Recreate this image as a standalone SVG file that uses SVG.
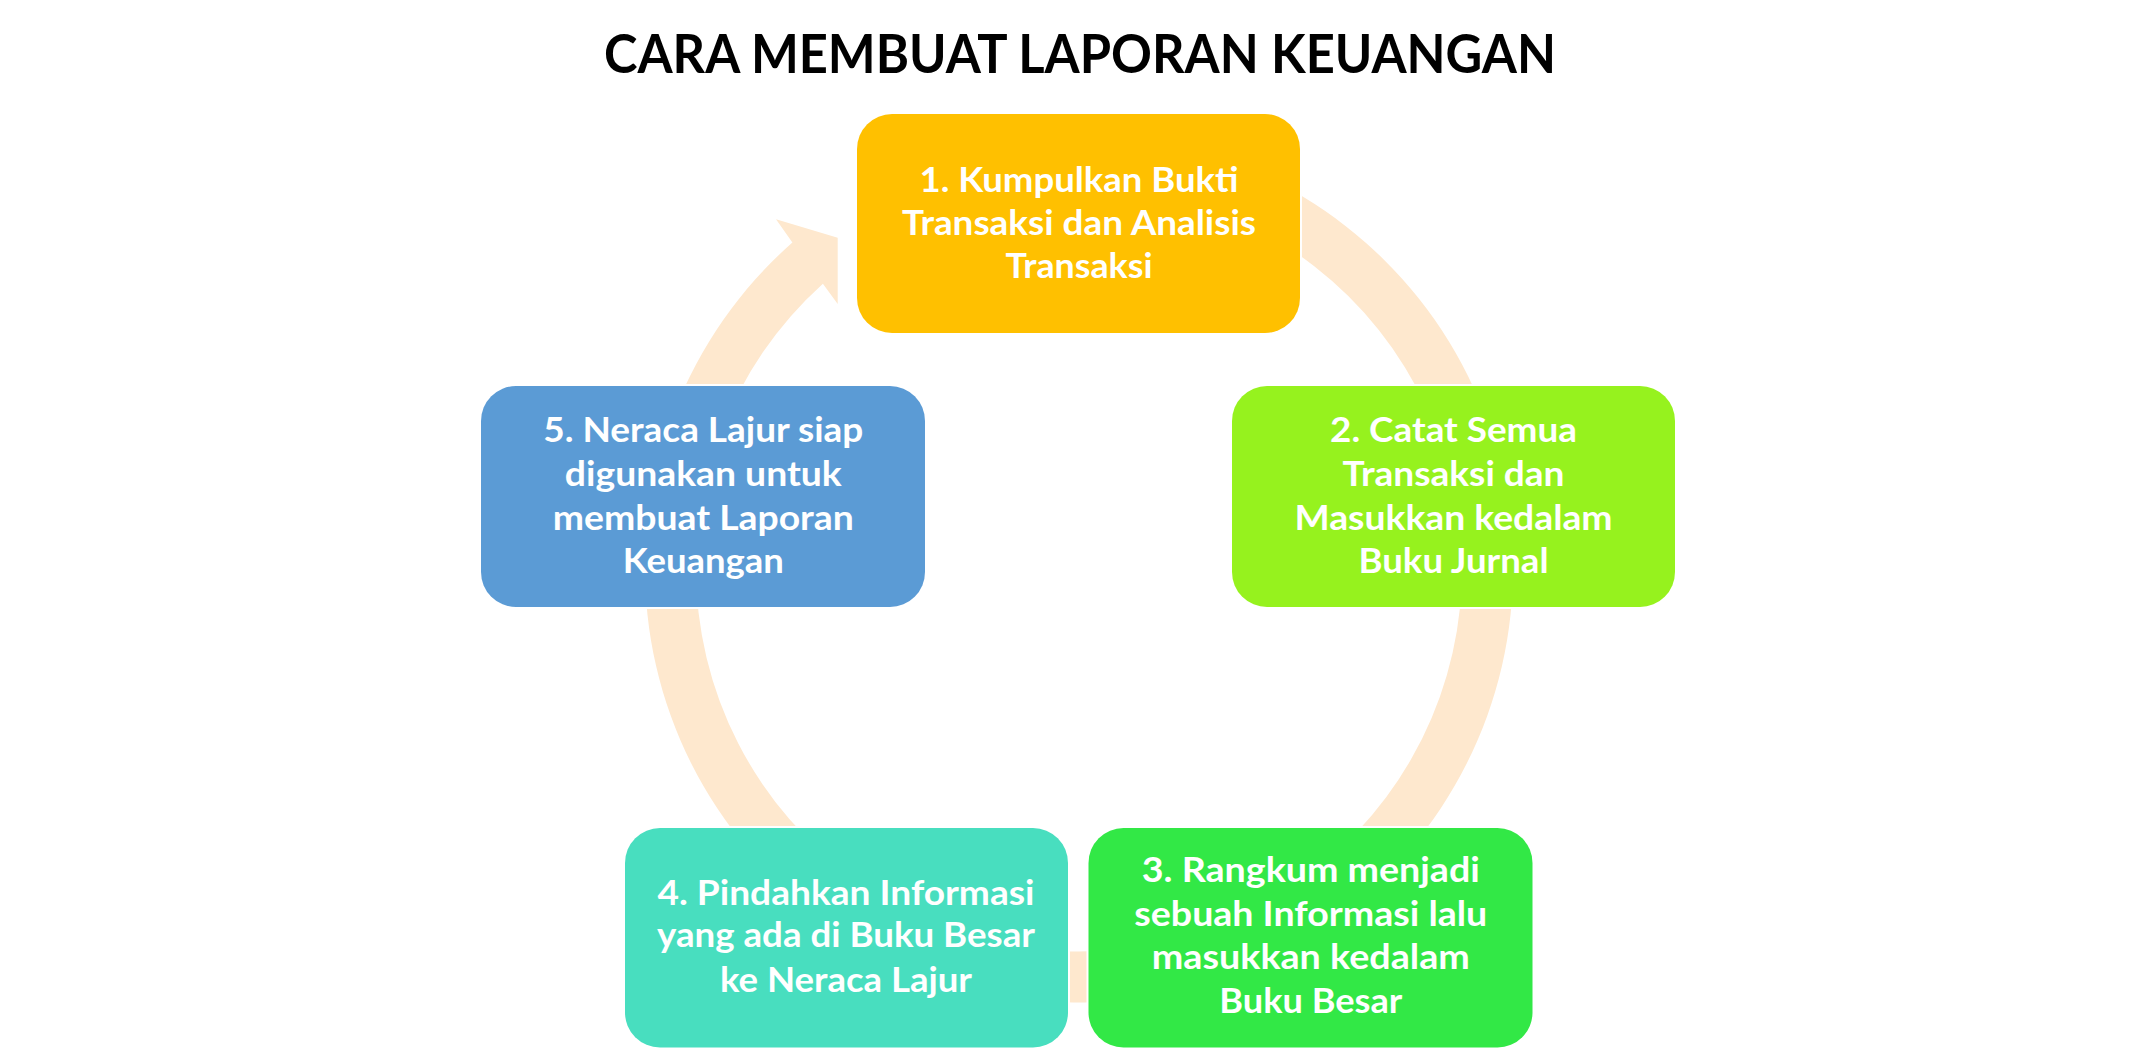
<svg xmlns="http://www.w3.org/2000/svg" width="2156" height="1050" viewBox="0 0 2156 1050">
<style>
.bg{fill:#ffffff}
.title{font-family:Lato,"Open Sans","Liberation Sans",sans-serif;font-weight:bold;font-size:53.5px;fill:#000000;text-anchor:middle}
.box{stroke:#ffffff;stroke-width:4;paint-order:stroke}
.lbl{font-family:Lato,"Open Sans","Liberation Sans",sans-serif;font-weight:bold;font-size:34.5px;fill:#ffffff;text-anchor:middle}
.ring{fill:#FEE8CE}
</style>
<rect class="bg" x="0" y="0" width="2156" height="1050"/>
<g id="title">
<text class="title" x="1080" y="73.3" textLength="952" lengthAdjust="spacingAndGlyphs">CARA MEMBUAT LAPORAN KEUANGAN</text>
</g>
<g id="connectors">
<path class="ring" d="M 1003.6 141.1 A 434 434 0 1 1 792.4 242.6 L 776 219.3 L 837.7 237.7 L 837.7 304 L 822.9 283.7 A 383 383 0 1 0 1012.5 191.3 Z"/>
</g>
<g id="node1">
<rect class="box" x="857" y="114" width="443" height="219" rx="35" ry="35" fill="#FFC000"/>
<text class="lbl" x="1079" y="192.3" textLength="319" lengthAdjust="spacingAndGlyphs">1. Kumpulkan Bukti</text>
<text class="lbl" x="1079" y="235" textLength="354" lengthAdjust="spacingAndGlyphs">Transaksi dan Analisis</text>
<text class="lbl" x="1079" y="277.7" textLength="147" lengthAdjust="spacingAndGlyphs">Transaksi</text>
</g>
<g id="node2">
<rect class="box" x="1232" y="386" width="443" height="221" rx="35" ry="35" fill="#96F21E"/>
<text class="lbl" x="1453.5" y="442.3" textLength="247" lengthAdjust="spacingAndGlyphs">2. Catat Semua</text>
<text class="lbl" x="1453.5" y="485.7" textLength="222" lengthAdjust="spacingAndGlyphs">Transaksi dan</text>
<text class="lbl" x="1453.5" y="530" textLength="318" lengthAdjust="spacingAndGlyphs">Masukkan kedalam</text>
<text class="lbl" x="1453.5" y="573.3" textLength="190" lengthAdjust="spacingAndGlyphs">Buku Jurnal</text>
</g>
<g id="node3">
<rect class="box" x="1088.5" y="828" width="444" height="219.5" rx="35" ry="35" fill="#32E846"/>
<text class="lbl" x="1310.8" y="882.3" textLength="338" lengthAdjust="spacingAndGlyphs">3. Rangkum menjadi</text>
<text class="lbl" x="1310.8" y="925.7" textLength="353" lengthAdjust="spacingAndGlyphs">sebuah Informasi lalu</text>
<text class="lbl" x="1310.8" y="969.3" textLength="318" lengthAdjust="spacingAndGlyphs">masukkan kedalam</text>
<text class="lbl" x="1310.8" y="1012.7" textLength="183" lengthAdjust="spacingAndGlyphs">Buku Besar</text>
</g>
<g id="node4">
<rect class="box" x="625" y="828" width="443" height="219.5" rx="35" ry="35" fill="#48DEBF"/>
<text class="lbl" x="846" y="905" textLength="377" lengthAdjust="spacingAndGlyphs">4. Pindahkan Informasi</text>
<text class="lbl" x="846" y="947.3" textLength="378" lengthAdjust="spacingAndGlyphs">yang ada di Buku Besar</text>
<text class="lbl" x="846" y="991.7" textLength="252" lengthAdjust="spacingAndGlyphs">ke Neraca Lajur</text>
</g>
<g id="node5">
<rect class="box" x="481" y="386" width="444" height="221" rx="35" ry="35" fill="#5B9BD5"/>
<text class="lbl" x="703.3" y="442.3" textLength="320" lengthAdjust="spacingAndGlyphs">5. Neraca Lajur siap</text>
<text class="lbl" x="703.3" y="485.7" textLength="277" lengthAdjust="spacingAndGlyphs">digunakan untuk</text>
<text class="lbl" x="703.3" y="530" textLength="301" lengthAdjust="spacingAndGlyphs">membuat Laporan</text>
<text class="lbl" x="703.3" y="573.3" textLength="161" lengthAdjust="spacingAndGlyphs">Keuangan</text>
</g>
</svg>
